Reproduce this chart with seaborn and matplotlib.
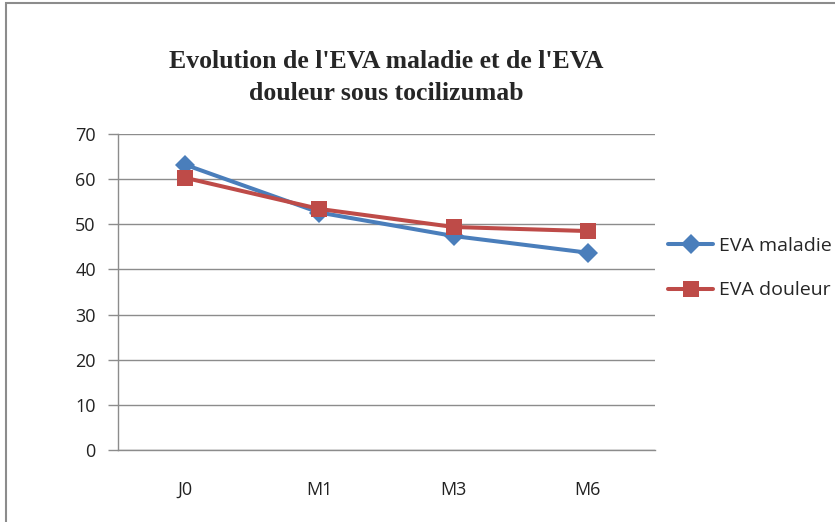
import pandas as pd
import matplotlib
matplotlib.use("Agg")
import matplotlib.pyplot as plt
import seaborn as sns
from matplotlib.patches import Rectangle

# Données
categories = ["J0", "M1", "M3", "M6"]
eva_maladie = [63.2, 52.6, 47.4, 43.7]
eva_douleur = [60.3, 53.4, 49.4, 48.5]
series_names = ["EVA maladie", "EVA douleur"]

df = pd.DataFrame({
    "temps": categories * 2,
    "valeur": eva_maladie + eva_douleur,
    "serie": [series_names[0]] * 4 + [series_names[1]] * 4,
})

sns.set_style("white")
plt.rcParams["font.family"] = ["Open Sans", "DejaVu Sans"]

fig = plt.figure(figsize=(8.35, 5.22), dpi=100)
ax = fig.add_axes([118 / 835, 1 - 450 / 522, (655 - 118) / 835, (450 - 134) / 522])

# cadre extérieur façon Excel
fig.patches.append(Rectangle((6 / 835, -0.1), 1.2, 1 - 3 / 522 + 0.1,
                             transform=fig.transFigure, fill=False,
                             edgecolor="#8c8c8c", linewidth=1.5))

palette = {"EVA maladie": "#4A7EBB", "EVA douleur": "#BE4B48"}
markers = {"EVA maladie": "D", "EVA douleur": "s"}
sns.lineplot(data=df, x="temps", y="valeur", hue="serie", style="serie",
             palette=palette, markers=markers, dashes=False, linewidth=2.9,
             markersize=10, markeredgewidth=0, ax=ax)

# taille des marqueurs
for line in ax.get_lines():
    if line.get_marker() == "D":
        line.set_markersize(10.5)
    elif line.get_marker() == "s":
        line.set_markersize(12)

ax.set_ylim(0, 70)
ax.set_yticks(range(0, 71, 10))
ax.set_xlim(-0.5, 3.5)
ax.set_xticks(range(len(categories)))
ax.set_xticks([i - 0.5 for i in range(len(categories) + 1)], minor=True)
ax.tick_params(axis="x", which="major", length=0, pad=22, labelsize=13, colors="#222222")
ax.tick_params(axis="x", which="minor", length=6, width=1, color="#8c8c8c", direction="out")
ax.tick_params(axis="y", length=7, width=1, color="#8c8c8c", direction="out",
               labelsize=13, colors="#222222", left=True, pad=9)
ax.yaxis.grid(True, color="#8c8c8c", linewidth=1)
ax.set_axisbelow(True)
ax.set_xlabel("")
ax.set_ylabel("")
for side in ["top", "right"]:
    ax.spines[side].set_visible(False)
for side in ["left", "bottom"]:
    ax.spines[side].set_color("#8c8c8c")
    ax.spines[side].set_linewidth(1)

# titre sur deux lignes, centré sur la zone de tracé
fig.text(386 / 835, 1 - 62 / 522, "Evolution de l'EVA maladie et de l'EVA",
         ha="center", va="center", fontsize=18.5, fontweight="bold",
         family=["Liberation Serif"])
fig.text(386 / 835, 1 - 93 / 522, "douleur sous tocilizumab",
         ha="center", va="center", fontsize=18.5, fontweight="bold",
         family=["Liberation Serif"])

leg = ax.legend(loc="center left", bbox_to_anchor=(1.01, 0.575), frameon=False,
                fontsize=14, handlelength=2.3, handletextpad=0.3, labelspacing=1.35,
                borderaxespad=0)

fig.savefig("out.png", dpi=100)
